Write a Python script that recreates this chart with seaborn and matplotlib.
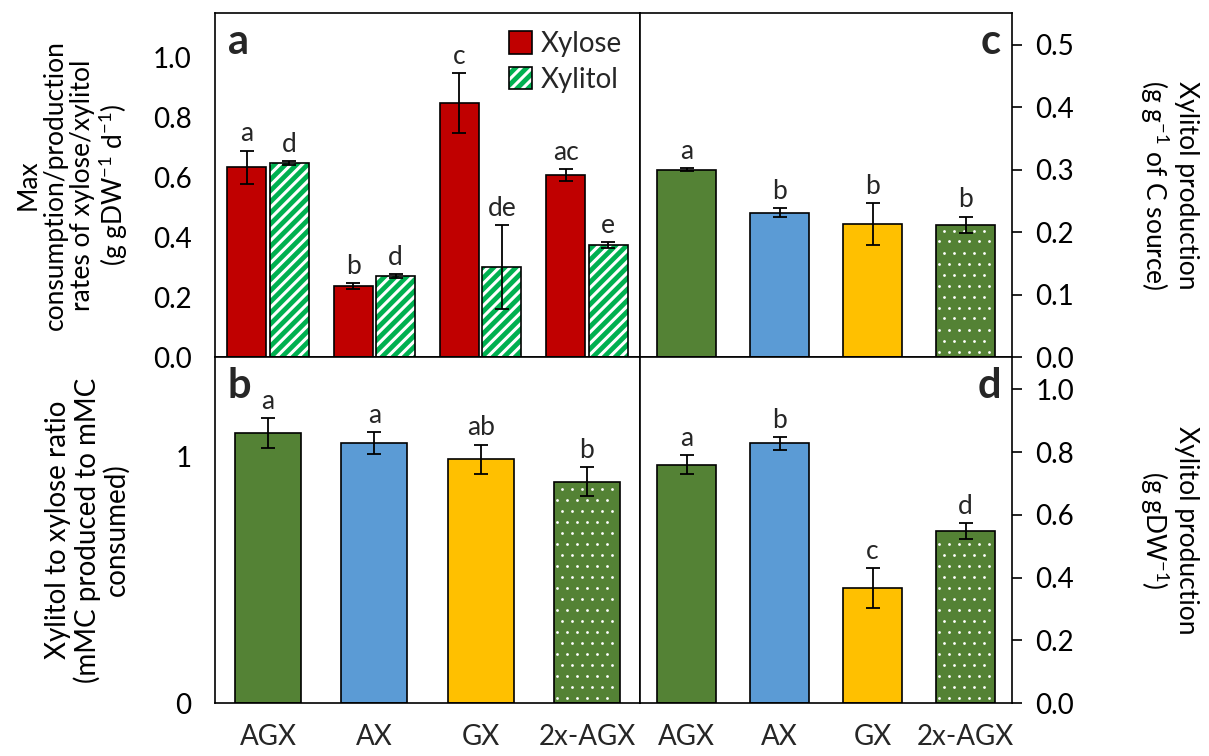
import numpy as np
import pandas as pd
import matplotlib
matplotlib.use("Agg")
import matplotlib.pyplot as plt
import seaborn as sns
from matplotlib.patches import Patch, Rectangle
from matplotlib.legend_handler import HandlerTuple

sns.set_style("white")
plt.rcParams['font.family'] = ['Lato', 'DejaVu Sans']
plt.rcParams['mathtext.default'] = 'regular'
plt.rcParams['hatch.linewidth'] = 2.2

# data
categories = ["AGX", "AX", "GX", "2x-AGX"]
cat_colors = ["#548235", "#5B9BD5", "#FFC000", "#548235"]

xylose_rate = [0.635, 0.238, 0.849, 0.609]
xylose_err = [0.055, 0.010, 0.100, 0.020]
xylose_letters = ["a", "b", "c", "ac"]
xylitol_rate = [0.648, 0.270, 0.300, 0.375]
xylitol_err = [0.007, 0.006, 0.140, 0.010]
xylitol_letters = ["d", "d", "de", "e"]

ratio = [1.098, 1.057, 0.990, 0.900]
ratio_err = [0.060, 0.045, 0.060, 0.060]
ratio_letters = ["a", "a", "ab", "b"]

yield_c = [0.300, 0.231, 0.213, 0.212]
yield_err = [0.002, 0.007, 0.033, 0.013]
yield_letters = ["a", "b", "b", "b"]

prod_d = [0.759, 0.828, 0.367, 0.549]
prod_err = [0.030, 0.020, 0.064, 0.025]
prod_letters = ["a", "b", "c", "d"]

RED = "#C00000"
GREEN = "#00B050"
TICK_FS = 20
LET_FS = 19
LAB_FS = 19

fig = plt.figure(figsize=(12.09, 7.56), dpi=100)
L, M, R = 215 / 1209, 640 / 1209, 1012 / 1209
T, MID, B = 1 - 13 / 756, 1 - 357 / 756, 1 - 703 / 756
ax_a = fig.add_axes([L, MID, M - L, T - MID])
ax_c = fig.add_axes([M, MID, R - M, T - MID])
ax_b = fig.add_axes([L, B, M - L, MID - B])
ax_d = fig.add_axes([M, B, R - M, MID - B])


def outline(ax, patch):
    ax.add_patch(Rectangle((patch.get_x(), patch.get_y()), patch.get_width(),
                           patch.get_height(), fill=False, edgecolor="black",
                           lw=1.2, zorder=3))


def dot_texture(ax, patch, dx=10, dy=11):
    # small white dots inside a bar, laid out in pixel space
    (x0, y0), (x1, y1) = ax.transData.transform(
        [(patch.get_x(), patch.get_y()),
         (patch.get_x() + patch.get_width(), patch.get_y() + patch.get_height())])
    pts = []
    for i, yy in enumerate(np.arange(y0 + dy / 2, y1 - 2, dy)):
        shift = dx / 2 if i % 2 else 0
        for xx in np.arange(x0 + dx / 2 + shift - 2, x1 - 3, dx):
            pts.append((xx, yy))
    pts = ax.transData.inverted().transform(np.array(pts))
    ax.scatter(pts[:, 0], pts[:, 1], s=4, color="white", linewidths=0, zorder=2.5)


def add_errs_letters(ax, patches, vals, errs, letters, offset=3):
    for p, v, e, t in zip(patches, vals, errs, letters):
        xc = p.get_x() + p.get_width() / 2
        ax.errorbar(xc, v, yerr=e, fmt="none", ecolor="black", elinewidth=1.3,
                    capsize=5, capthick=1.3, zorder=4)
        ax.annotate(t, (xc, v + e), xytext=(0, offset), textcoords="offset points",
                    ha="center", va="bottom", fontsize=LET_FS)


def single_panel(ax, vals, errs, letters, width, ylim):
    df = pd.DataFrame({"cat": categories, "val": vals})
    sns.barplot(data=df, x="cat", y="val", hue="cat", palette=cat_colors,
                width=width, errorbar=None, legend=False, ax=ax,
                edgecolor="black", linewidth=1.2, saturation=1)
    ax.set_xlim(-0.5, 3.5)
    ax.set_ylim(*ylim)
    bars = [p for c in ax.containers for p in c.patches]
    dot_texture(ax, bars[3])
    add_errs_letters(ax, bars, vals, errs, letters)


# ---- panel a
df_a = pd.DataFrame({
    "cat": categories * 2,
    "val": xylose_rate + xylitol_rate,
    "kind": ["Xylose"] * 4 + ["Xylitol"] * 4,
})
sns.barplot(data=df_a, x="cat", y="val", hue="kind", palette=[RED, GREEN],
            width=0.8, gap=0.08, errorbar=None, ax=ax_a, edgecolor="black",
            linewidth=1.2, saturation=1, legend=False)
for p in ax_a.containers[1].patches:
    p.set_edgecolor("white")
    p.set_linewidth(0)
    p.set_hatch("///")
    outline(ax_a, p)
add_errs_letters(ax_a, ax_a.containers[0].patches, xylose_rate, xylose_err, xylose_letters)
add_errs_letters(ax_a, ax_a.containers[1].patches, xylitol_rate, xylitol_err, xylitol_letters)
ax_a.set_ylim(0, 1.15)
ax_a.set_yticks(np.arange(0, 1.01, 0.2))
ax_a.set_yticklabels([f"{v:.1f}" for v in np.arange(0, 1.01, 0.2)])
h_xylose = Patch(facecolor=RED, edgecolor="black", lw=1.2)
h_xylitol = (Patch(facecolor=GREEN, edgecolor="white", hatch="///", lw=0),
             Patch(facecolor="none", edgecolor="black", lw=1.2))
ax_a.legend([h_xylose, h_xylitol], ["Xylose", "Xylitol"],
            handler_map={tuple: HandlerTuple(ndivide=1)}, loc="upper right",
            frameon=False, fontsize=20, handlelength=0.85, handleheight=0.85,
            handletextpad=0.3, borderaxespad=0.25, labelspacing=0.35)
ax_a.set_ylabel("Max\nconsumption/production\nrates of xylose/xylitol\n(g gDW$^{-1}$ d$^{-1}$)",
                fontsize=LAB_FS, linespacing=1.1)
ax_a.yaxis.set_label_coords(-0.2, 0.5)

# ---- panel b
single_panel(ax_b, ratio, ratio_err, ratio_letters, 0.62, (0, 1.406))
ax_b.set_yticks([0, 1])
ax_b.set_yticklabels(["0", "1"])
ax_b.set_ylabel("Xylitol to xylose ratio\n(mMC produced to mMC\nconsumed)",
                fontsize=LAB_FS + 1, linespacing=1.1)
ax_b.yaxis.set_label_coords(-0.2, 0.5)

# ---- panel c
single_panel(ax_c, yield_c, yield_err, yield_letters, 0.64, (0, 0.551))
ax_c.set_yticks(np.arange(0, 0.51, 0.1))
ax_c.set_yticklabels([f"{v:.1f}" for v in np.arange(0, 0.51, 0.1)])

# ---- panel d
single_panel(ax_d, prod_d, prod_err, prod_letters, 0.64, (0, 1.103))
ax_d.set_yticks(np.arange(0, 1.01, 0.2))
ax_d.set_yticklabels([f"{v:.1f}" for v in np.arange(0, 1.01, 0.2)])

for ax in (ax_c, ax_d):
    ax.yaxis.tick_right()
    ax.yaxis.set_label_position("right")
ax_c.set_ylabel("Xylitol production\n(g g$^{-1}$ of C source)", fontsize=LAB_FS,
                rotation=270, va="bottom", linespacing=1.1)
ax_d.set_ylabel("Xylitol production\n(g gDW$^{-1}$)", fontsize=LAB_FS,
                rotation=270, va="bottom", linespacing=1.1)
ax_c.yaxis.set_label_coords(1.34, 0.5)
ax_d.yaxis.set_label_coords(1.34, 0.5)

bounds = [-0.5, 0.5, 1.5, 2.5, 3.5]
for ax in (ax_a, ax_b, ax_c, ax_d):
    ax.set_xlim(-0.5, 3.5)
    ax.set_xlabel("")
    for s in ax.spines.values():
        s.set_visible(True)
        s.set_color("black")
        s.set_linewidth(1.2)
    ax.tick_params(axis="y", direction="out", length=7, width=1.2, pad=10,
                   labelsize=TICK_FS, colors="black")
    ax.yaxis.label.set_color("black")

# x ticks at category boundaries, labels at centres
for ax in (ax_b, ax_d):
    ax.set_xticks(bounds)
    ax.set_xticklabels([])
    ax.tick_params(axis="x", which="major", direction="out", length=7, width=1.2)
    ax.set_xticks(range(4), minor=True)
    ax.set_xticklabels(categories, minor=True)
    ax.tick_params(axis="x", which="minor", length=0, labelsize=TICK_FS, pad=15)
ax_a.set_xticks(bounds[1:-1])
ax_a.set_xticklabels([])
ax_a.tick_params(axis="x", direction="in", length=7, width=1.2)
ax_c.set_xticks([])

panel_font = dict(fontsize=30, fontweight="bold", va="top")
ax_a.text(0.03, 0.97, "a", transform=ax_a.transAxes, ha="left", **panel_font)
ax_b.text(0.03, 0.97, "b", transform=ax_b.transAxes, ha="left", **panel_font)
ax_c.text(0.97, 0.97, "c", transform=ax_c.transAxes, ha="right", **panel_font)
ax_d.text(0.97, 0.97, "d", transform=ax_d.transAxes, ha="right", **panel_font)

fig.savefig("out.png", dpi=100)
